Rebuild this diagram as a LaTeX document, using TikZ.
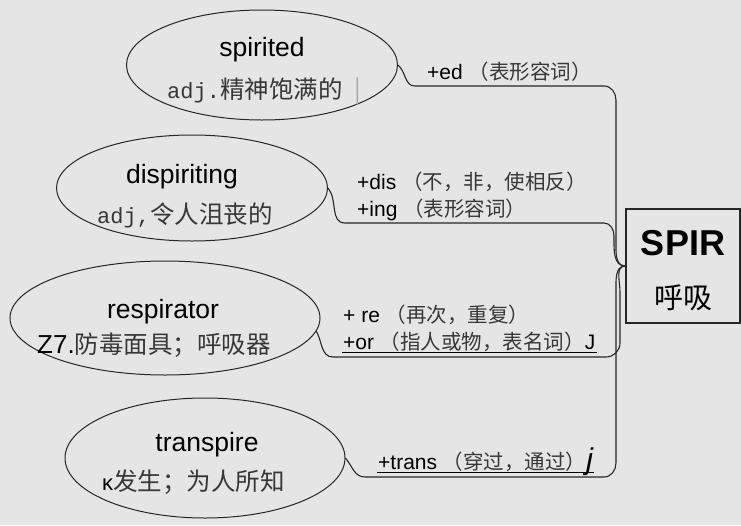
\documentclass[tikz,border=0pt]{standalone}
\usepackage{fontspec}
\setmainfont{Liberation Sans}
\setmonofont{Liberation Mono}
\newfontfamily\cjk{Noto Sans CJK SC}
\usetikzlibrary{shapes.geometric}
\definecolor{paper}{RGB}{229,229,229}
\definecolor{ink}{RGB}{55,55,55}
\newcommand{\zh}[1]{{\cjk\fontsize{20.5}{24}\selectfont\color{ink}#1}}
\newcommand{\pos}[1]{{\ttfamily\fontsize{22}{24}\selectfont\color{ink}#1}}

\begin{document}
\begin{tikzpicture}[x=1pt,y=-1pt,
  word/.style={ellipse,draw=black!85,line width=1pt,inner sep=0pt},
  head/.style={font=\fontsize{26.5}{30}\selectfont,inner sep=0pt},
  gloss/.style={anchor=west,font=\cjk\fontsize{24.5}{28}\selectfont,text=ink,inner sep=0pt},
  affix/.style={anchor=west,font=\fontsize{21}{24}\selectfont,inner sep=1pt},
  link/.style={draw=black!85,line width=1.1pt}]
\fill[paper] (0,0) rectangle (741,525);

% word ellipses
\foreach \n/\x/\y/\w/\h in {spirited/262/65/271/110,dispiriting/192/188/271/106,respirator/165/318/310/114,transpire/205/458/280/120} {
  \node[word,minimum width=\w,minimum height=\h] (\n) at (\x,\y) {};
}
\node[draw=black!85,line width=1.3pt,minimum width=114,minimum height=114] (root) at (683,266) {};
\node[font=\bfseries\fontsize{36}{40}\selectfont,inner sep=0pt] (root-en) at (683,243) {SPIR};
\node[font=\cjk\fontsize{29}{32}\selectfont,inner sep=0pt] (root-zh) at (683,298) {呼吸};

% headwords and meanings
\node[head] (spirited-en) at (262,50) {spirited};
\node[gloss] (spirited-zh) at (167,92) {\pos{adj.}精神饱满的\hspace{12pt}{\color{black!35}|}};
\node[head] (dispiriting-en) at (182,177) {dispiriting};
\node[gloss] (dispiriting-zh) at (97,215) {\pos{adj,}令人沮丧的};
\node[head] (respirator-en) at (163,312) {respirator};
\node[gloss] (respirator-zh) at (37,345) {{\rmfamily\fontsize{26}{28}\selectfont\color{black}Z7.}防毒面具；呼吸器};
\node[head] (transpire-en) at (207,445) {transpire};
\node[gloss] (transpire-zh) at (102,482) {{\rmfamily\fontsize{22}{28}\selectfont\color{black}κ}发生；为人所知};

% affixes
\node[affix] (ed) at (426,72) {+ed \zh{（表形容词）}};
\node[affix] (dis) at (356,182) {+dis \zh{（不，非，使相反）}};
\node[affix] (ing) at (356,210) {+ing \zh{（表形容词）}};
\node[affix] (re) at (342,315) {+ re \zh{（再次，重复）}};
\node[affix] (or) at (342,342) {+or \zh{（指人或物，表名词）}J};
\node[affix] (trans) at (377,462) {+trans \zh{（穿过，通过）}{\itshape\fontsize{30}{30}\selectfont j}};
\draw[line width=1pt] ([yshift=-3pt]or.base west) -- ([yshift=-3pt]or.base east);
\draw[line width=1pt] ([yshift=-3pt]trans.base west) -- ([yshift=-3pt]trans.base east);

% links to the root
\draw[link] (spirited.east) to[out=-40,in=180] (415,86) -- (604,86) to[out=0,in=90] (616,100)
  -- (616,240) to[out=-90,in=180] (root.west);
\draw[link] (dispiriting.east) to[out=-50,in=180] (345,223) -- (604,223) to[out=0,in=90] (614,236)
  to[out=-90,in=180] (root.west);
\draw[link] (respirator.-5) to[out=-60,in=180] (333,357) -- (606,357) to[out=0,in=-90] (620,343)
  -- (620,292) to[out=90,in=180] (root.west);
\draw[link] (transpire.east) to[out=-50,in=180] (365,477) -- (604,477) to[out=0,in=-90] (616,463)
  -- (616,292) to[out=90,in=180] (root.west);
\end{tikzpicture}
\end{document}
